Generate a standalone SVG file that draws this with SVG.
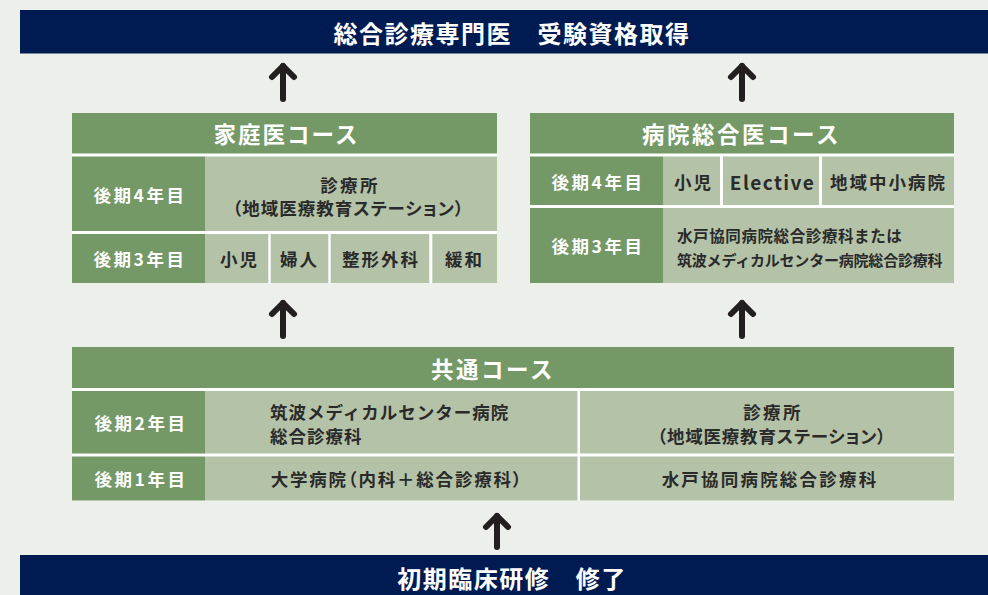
<svg xmlns="http://www.w3.org/2000/svg" width="988" height="595" viewBox="0 0 988 595">
<defs>
<style>
.dk{fill:#749866}
.lt{fill:#b4c3a8}
.wh{fill:#ffffff}
.navy{fill:#001a52}
text{font-family:"Noto Sans CJK JP","Noto Sans",sans-serif;font-weight:700;dominant-baseline:central}
.t-bar{fill:#ffffff;font-size:24px;letter-spacing:1.5px;text-anchor:middle}
.t-title{fill:#ffffff;font-size:22.5px;letter-spacing:2px;text-anchor:middle}
.t-lab{fill:#ffffff;font-size:17.5px;letter-spacing:2.5px;text-anchor:middle}
.t-cell{fill:#2a2a2a;font-size:17.5px;letter-spacing:2px;text-anchor:middle}
.pal{font-feature-settings:"palt"}
.t-small{fill:#2a2a2a;font-size:15.5px;letter-spacing:0.6px}
.conn line{stroke:#231f20;stroke-width:6;stroke-linecap:round;fill:none}
</style>
<marker id="ah" markerUnits="userSpaceOnUse" orient="auto" viewBox="-20 -20 40 40" markerWidth="40" markerHeight="40" refX="0" refY="0" overflow="visible">
<path d="M-11,-11 L0,0 L-11,11" fill="none" stroke="#231f20" stroke-width="6" stroke-linecap="round" stroke-linejoin="round"/>
</marker>
</defs>
<rect x="0" y="0" width="988" height="595" fill="#edefea"/>

<g id="goal-bar">
<rect class="navy" x="20" y="10" width="968" height="43.5"/>
<text class="t-bar" x="512" y="32">総合診療専門医　受験資格取得</text>
</g>

<g id="family-course">
<rect class="wh" x="72" y="113" width="425" height="170"/>
<rect class="dk" x="72" y="113" width="425" height="40.5"/>
<text class="t-title" x="286.5" y="133">家庭医コース</text>
<rect class="dk" x="72" y="156.5" width="133" height="74.5"/>
<rect class="lt" x="205" y="156.5" width="292" height="74.5"/>
<text class="t-lab" x="140" y="194">後期4年目</text>
<text class="t-cell" x="350" y="184" style="letter-spacing:2.3px">診療所</text>
<text class="t-cell pal" x="348.5" y="207" style="letter-spacing:1px">（地域医療教育ステーション）</text>
<rect class="dk" x="72" y="234" width="133" height="49"/>
<text class="t-lab" x="140" y="258.5">後期3年目</text>
<rect class="lt" x="205" y="234" width="63.3" height="49"/>
<rect class="lt" x="270.7" y="234" width="57.6" height="49"/>
<rect class="lt" x="330.7" y="234" width="98.6" height="49"/>
<rect class="lt" x="432.3" y="234" width="64.7" height="49"/>
<text class="t-cell" x="239.5" y="258.5">小児</text>
<text class="t-cell" x="299.5" y="258.5">婦人</text>
<text class="t-cell" x="381" y="258.5">整形外科</text>
<text class="t-cell" x="464.5" y="258.5">緩和</text>
</g>

<g id="hospital-course">
<rect class="wh" x="530" y="113" width="424" height="170"/>
<rect class="dk" x="530" y="113" width="424" height="40.5"/>
<text class="t-title" x="741.5" y="133" style="letter-spacing:2.5px">病院総合医コース</text>
<rect class="dk" x="530" y="156.5" width="133" height="48.5"/>
<text class="t-lab" x="598" y="181">後期4年目</text>
<rect class="lt" x="663" y="156.5" width="57" height="48.5"/>
<rect class="lt" x="723" y="156.5" width="96" height="48.5"/>
<rect class="lt" x="822" y="156.5" width="132" height="48.5"/>
<text class="t-cell" x="693.5" y="181">小児</text>
<text class="t-cell" x="772.5" y="181" style="font-size:19px;letter-spacing:1.4px">Elective</text>
<text class="t-cell" x="888.5" y="181">地域中小病院</text>
<rect class="dk" x="530" y="208" width="133" height="75"/>
<text class="t-lab" x="598" y="245.5">後期3年目</text>
<rect class="lt" x="663" y="208" width="291" height="75"/>
<text class="t-small" x="677" y="235">水戸協同病院総合診療科または</text>
<text class="t-small" x="677" y="259" style="font-size:15px;letter-spacing:-0.2px">筑波メディカルセンター病院総合診療科</text>
</g>

<g id="common-course">
<rect class="wh" x="72" y="347" width="882" height="153.5"/>
<rect class="dk" x="72" y="347" width="882" height="41"/>
<text class="t-title" x="493" y="367.5" style="letter-spacing:2.5px">共通コース</text>
<rect class="dk" x="72" y="391" width="133" height="62.5"/>
<text class="t-lab" x="141" y="422.5">後期2年目</text>
<rect class="lt" x="205" y="391" width="372.5" height="62.5"/>
<rect class="lt" x="580" y="391" width="374" height="62.5"/>
<text class="t-cell" x="270" y="411.5" style="text-anchor:start;letter-spacing:1px">筑波メディカルセンター病院</text>
<text class="t-cell" x="270" y="435" style="text-anchor:start;letter-spacing:1px">総合診療科</text>
<text class="t-cell" x="773" y="411.5" style="letter-spacing:2.3px">診療所</text>
<text class="t-cell pal" x="772" y="435" style="letter-spacing:0.8px">（地域医療教育ステーション）</text>
<rect class="dk" x="72" y="456.5" width="133" height="44"/>
<text class="t-lab" x="141" y="478.5">後期1年目</text>
<rect class="lt" x="205" y="456.5" width="372.5" height="44"/>
<rect class="lt" x="580" y="456.5" width="374" height="44"/>
<text class="t-cell pal" x="397" y="478.5" style="letter-spacing:1.8px">大学病院（内科＋総合診療科）</text>
<text class="t-cell" x="770" y="478.5" style="letter-spacing:2.2px">水戸協同病院総合診療科</text>
</g>

<g id="start-bar">
<rect class="navy" x="20" y="555" width="968" height="40"/>
<text class="t-bar" x="512" y="577">初期臨床研修　修了</text>
</g>

<g id="connectors" class="conn">
<line x1="283" y1="99" x2="283" y2="66" marker-end="url(#ah)"/>
<line x1="742" y1="99" x2="742" y2="66" marker-end="url(#ah)"/>
<line x1="283" y1="336" x2="283" y2="303" marker-end="url(#ah)"/>
<line x1="742" y1="336" x2="742" y2="303" marker-end="url(#ah)"/>
<line x1="497" y1="547" x2="497" y2="516" marker-end="url(#ah)"/>
</g>
</svg>
